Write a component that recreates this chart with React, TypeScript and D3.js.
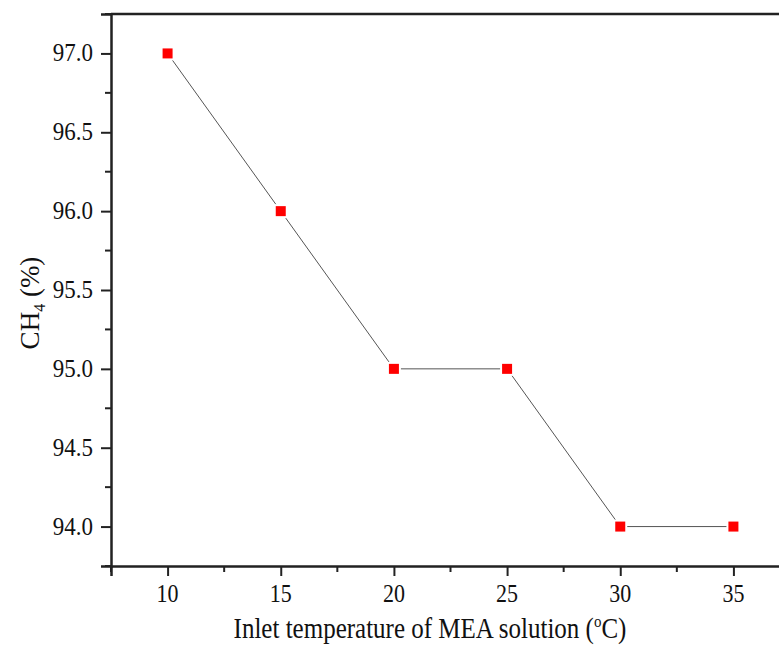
import React, { useEffect, useRef } from "react";
import * as d3 from "d3";

const temps = [10, 15, 20, 25, 30, 35];
const ch4 = [97.0, 96.0, 95.0, 95.0, 94.0, 94.0];
const xTicks = [10, 15, 20, 25, 30, 35];
const yTicks = [94.0, 94.5, 95.0, 95.5, 96.0, 96.5, 97.0];

const FONT = "Liberation Serif, Times New Roman, serif";

const App = () => {
  const svgRef = useRef<SVGSVGElement>(null);

  useEffect(() => {
    const svg = d3.select(svgRef.current);
    const width = 779;
    const height = 645;
    const margin = { top: 14, right: -11, bottom: 79, left: 111 };

    svg.selectAll("*").remove();

    const x = d3
      .scaleLinear()
      .domain([7.5, 37.5])
      .range([margin.left, width - margin.right]);
    const y = d3
      .scaleLinear()
      .domain([93.75, 97.25])
      .range([height - margin.bottom, margin.top]);

    // top frame line
    svg
      .append("line")
      .attr("x1", margin.left)
      .attr("x2", width)
      .attr("y1", margin.top)
      .attr("y2", margin.top)
      .attr("stroke", "#222")
      .attr("stroke-width", 2.5);

    const xMinor = d3.range(7.5, 38, 2.5).filter((v) => !xTicks.includes(v));
    const yMinor = d3
      .range(93.75, 97.3, 0.25)
      .filter((v) => !yTicks.some((t) => Math.abs(t - v) < 1e-6));

    // x axis (ticks only, labels drawn below)
    const xAxis = svg
      .append("g")
      .attr("transform", `translate(0, ${height - margin.bottom})`)
      .call(d3.axisBottom(x).tickValues(xTicks).tickSize(10).tickFormat(() => ""));
    xAxis.select(".domain").attr("stroke", "#222").attr("stroke-width", 2.5);
    xAxis.selectAll(".tick line").attr("stroke", "#222").attr("stroke-width", 2);
    xAxis
      .selectAll(".minor")
      .data(xMinor)
      .enter()
      .append("line")
      .attr("x1", (d) => x(d))
      .attr("x2", (d) => x(d))
      .attr("y1", 0)
      .attr("y2", 6)
      .attr("stroke", "#222")
      .attr("stroke-width", 2);

    svg
      .append("g")
      .selectAll("text")
      .data(xTicks)
      .enter()
      .append("text")
      .attr("transform", (d) => `translate(${x(d)}, ${height - margin.bottom + 36}) scale(1, 1.12)`)
      .attr("text-anchor", "middle")
      .attr("font-family", FONT)
      .attr("font-size", 22)
      .attr("fill", "#111")
      .text((d) => d3.format("d")(d));

    // y axis
    const yAxis = svg
      .append("g")
      .attr("transform", `translate(${margin.left}, 0)`)
      .call(d3.axisLeft(y).tickValues(yTicks).tickSize(10).tickFormat(() => ""));
    yAxis.select(".domain").attr("stroke", "#222").attr("stroke-width", 2.5);
    yAxis.selectAll(".tick line").attr("stroke", "#222").attr("stroke-width", 2);
    yAxis
      .selectAll(".minor")
      .data(yMinor)
      .enter()
      .append("line")
      .attr("x1", 0)
      .attr("x2", -6)
      .attr("y1", (d) => y(d))
      .attr("y2", (d) => y(d))
      .attr("stroke", "#222")
      .attr("stroke-width", 2);

    svg
      .append("g")
      .selectAll("text")
      .data(yTicks)
      .enter()
      .append("text")
      .attr("transform", (d) => `translate(${margin.left - 18}, ${y(d) + 8}) scale(1, 1.08)`)
      .attr("text-anchor", "end")
      .attr("font-family", FONT)
      .attr("font-size", 23)
      .attr("fill", "#111")
      .text((d) => d3.format(".1f")(d));

    // data line
    const pts = temps.map((t, i) => [t, ch4[i]] as [number, number]);
    svg
      .append("path")
      .datum(pts)
      .attr("fill", "none")
      .attr("stroke", "#555")
      .attr("stroke-width", 1)
      .attr(
        "d",
        d3
          .line<[number, number]>()
          .x((d) => x(d[0]))
          .y((d) => y(d[1]))
      );

    // markers
    const s = 12;
    svg
      .selectAll(".pt")
      .data(pts)
      .enter()
      .append("rect")
      .attr("x", (d) => x(d[0]) - s / 2)
      .attr("y", (d) => y(d[1]) - s / 2)
      .attr("width", s)
      .attr("height", s)
      .attr("fill", "#ff0000")
      .attr("stroke", "#fff")
      .attr("stroke-width", 2);

    // x title
    const xt = svg
      .append("text")
      .attr("transform", "translate(430, 638) scale(1, 1.15)")
      .attr("text-anchor", "middle")
      .attr("font-family", FONT)
      .attr("font-size", 25)
      .attr("fill", "#111");
    xt.append("tspan").text("Inlet temperature of MEA solution (");
    xt.append("tspan").attr("font-size", 15).attr("dy", -10).text("o");
    xt.append("tspan").attr("dy", 10).text("C)");

    // y title
    const yt = svg
      .append("text")
      .attr("transform", "translate(39, 303) rotate(-90)")
      .attr("text-anchor", "middle")
      .attr("font-family", FONT)
      .attr("font-size", 27)
      .attr("fill", "#111");
    yt.append("tspan").text("CH");
    yt.append("tspan").attr("font-size", 16).attr("dy", 6).text("4");
    yt.append("tspan").attr("dy", -6).text(" (%)");
  }, []);

  return (
    <svg
      ref={svgRef}
      width={779}
      height={645}
      style={{ position: "absolute", left: 0, top: 0, background: "#fff" }}
    ></svg>
  );
};

export default App;
